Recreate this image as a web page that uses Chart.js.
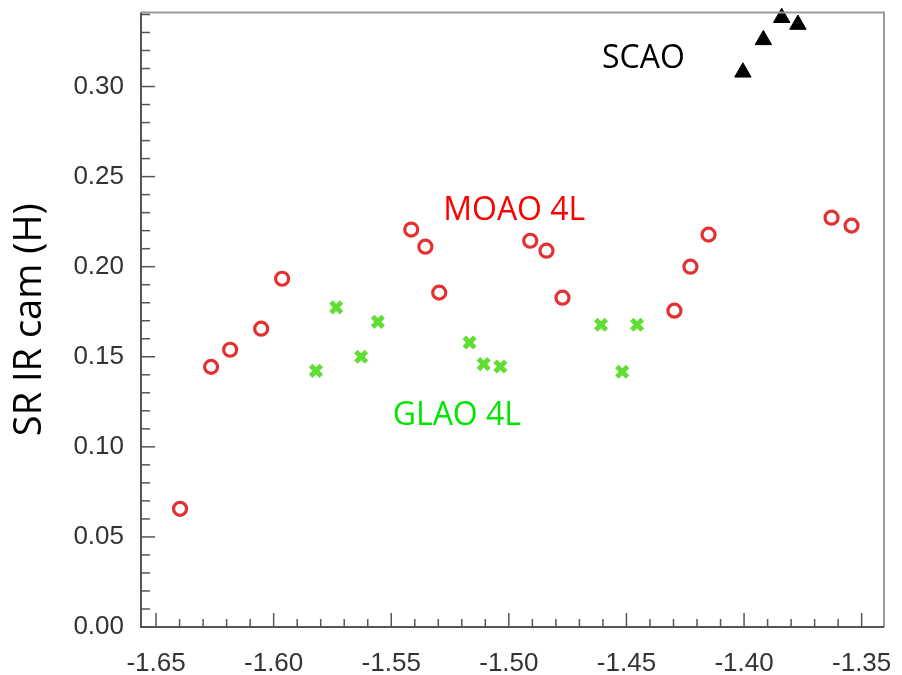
<!DOCTYPE html>
<html>
<head>
<meta charset="utf-8">
<script src="https://cdn.jsdelivr.net/npm/chart.js@4/dist/chart.umd.min.js"></script>
<style>
  html, body { margin: 0; padding: 0; background: #fff; }
  #c { display: block; }
</style>
</head>
<body>
<canvas id="c" width="902" height="675"></canvas>
<script>
// ---- data ----
const moaoX = [-1.6398, -1.6266, -1.6185, -1.6053, -1.5964, -1.5415, -1.5355, -1.5296,
               -1.4909, -1.4840, -1.4772, -1.4296, -1.4228, -1.4151, -1.3628, -1.3543];
const moaoY = [0.0656, 0.1444, 0.1539, 0.1656, 0.1933, 0.2206, 0.2111, 0.1856,
               0.2144, 0.2089, 0.1828, 0.1756, 0.2000, 0.2178, 0.2272, 0.2228];

const glaoX = [-1.5820, -1.5734, -1.5628, -1.5557, -1.5167, -1.5107, -1.5036, -1.4608, -1.4518, -1.4455];
const glaoY = [0.1422, 0.1774, 0.1500, 0.1694, 0.1579, 0.1459, 0.1446, 0.1678, 0.1417, 0.1678];

const scaoX = [-1.4005, -1.3918, -1.3840, -1.3771];
const scaoY = [0.3079, 0.3259, 0.3382, 0.3344];

const xTickLabels = ['-1.65', '-1.60', '-1.55', '-1.50', '-1.45', '-1.40', '-1.35'];
const yTickLabels = ['0.00', '0.05', '0.10', '0.15', '0.20', '0.25', '0.30'];

const xRange = [-1.6564, -1.3405];
const yRange = [0, 0.3411];

const seriesLabels = ['MOAO 4L', 'GLAO 4L', 'SCAO'];
const labelX = [-1.4977, -1.5221, -1.4428];
const labelY = [0.2311, 0.1172, 0.3156];
const labelColors = ['#ff0000', '#00e600', '#000000'];
const yTitle = 'SR IR cam (H)';

// ---- helpers ----
const pts = (xs, ys) => xs.map((x, i) => ({ x: x, y: ys[i] }));
const xMajor = xTickLabels.map(Number);
const yMajor = yTickLabels.map(Number);
function minorTicks(lo, hi) {
  const out = [];
  const start = Math.ceil(lo * 100 - 1e-6);
  const end = Math.floor(hi * 100 + 1e-6);
  for (let k = start; k <= end; k++) out.push(k / 100);
  return out;
}
const isMajor = (v, major) => major.some(m => Math.abs(m - v) < 1e-6);
const labelFor = (v, major, labels) => {
  const i = major.findIndex(m => Math.abs(m - v) < 1e-6);
  return i >= 0 ? labels[i] : '';
};

const frameTicks = {
  id: 'frameTicks',
  afterDatasetsDraw(chart) {
    const { ctx, chartArea: a, scales } = chart;
    ctx.save();
    ctx.strokeStyle = '#9a9a9a';
    ctx.lineWidth = 2;
    ctx.beginPath();
    ctx.moveTo(a.left, a.top); ctx.lineTo(a.right, a.top); ctx.lineTo(a.right, a.bottom);
    ctx.stroke();
    ctx.strokeStyle = '#555';
    ctx.beginPath();
    ctx.moveTo(a.left, a.top); ctx.lineTo(a.left, a.bottom); ctx.lineTo(a.right, a.bottom);
    ctx.stroke();
    ctx.lineWidth = 1.5;
    ctx.strokeStyle = '#555';
    scales.x.ticks.forEach(t => {
      const px = scales.x.getPixelForValue(t.value);
      const len = isMajor(t.value, xMajor) ? 14 : 8;
      ctx.beginPath(); ctx.moveTo(px, a.bottom); ctx.lineTo(px, a.bottom - len); ctx.stroke();
    });
    scales.y.ticks.forEach(t => {
      const py = scales.y.getPixelForValue(t.value);
      const len = isMajor(t.value, yMajor) ? 14 : 9;
      ctx.beginPath(); ctx.moveTo(a.left, py); ctx.lineTo(a.left + len, py); ctx.stroke();
    });
    ctx.font = '32px "Open Sans", "Noto Sans", sans-serif';
    ctx.textAlign = 'center';
    ctx.textBaseline = 'middle';
    seriesLabels.forEach((s, i) => {
      ctx.fillStyle = labelColors[i];
      ctx.fillText(s, scales.x.getPixelForValue(labelX[i]), scales.y.getPixelForValue(labelY[i]));
    });
    ctx.restore();
  }
};

new Chart(document.getElementById('c'), {
  type: 'scatter',
  data: {
    datasets: [
      { label: 'MOAO 4L', data: pts(moaoX, moaoY), pointStyle: 'circle', pointRadius: 6.5,
        borderColor: 'rgb(228,48,48)', backgroundColor: 'rgba(0,0,0,0)', pointBorderWidth: 3.2, clip: false },
      { label: 'GLAO 4L', data: pts(glaoX, glaoY), pointStyle: 'crossRot', pointRadius: 7.5,
        borderColor: 'rgb(96,222,52)', backgroundColor: 'rgb(96,222,52)', pointBorderWidth: 5, clip: false },
      { label: 'SCAO', data: pts(scaoX, scaoY), pointStyle: 'triangle', pointRadius: 9.5,
        borderColor: '#000', backgroundColor: '#000', pointBorderWidth: 1, clip: false }
    ]
  },
  options: {
    responsive: false,
    animation: false,
    devicePixelRatio: 1,
    layout: { padding: { top: 12, right: 18, left: 0, bottom: 0 } },
    plugins: { legend: { display: false }, tooltip: { enabled: false } },
    scales: {
      x: {
        type: 'linear', min: xRange[0], max: xRange[1],
        grid: { display: false }, border: { display: false },
        afterBuildTicks: s => { s.ticks = minorTicks(xRange[0], xRange[1]).map(v => ({ value: v })); },
        afterFit: s => { s.height = 48; s.paddingLeft = 0; s.paddingRight = 0; },
        ticks: {
          autoSkip: false, maxRotation: 0, padding: 13,
          color: '#333', font: { family: '"Liberation Sans", Arial, sans-serif', size: 26 },
          callback: v => labelFor(v, xMajor, xTickLabels)
        }
      },
      y: {
        type: 'linear', min: yRange[0], max: yRange[1],
        grid: { display: false }, border: { display: false },
        afterBuildTicks: s => { s.ticks = minorTicks(yRange[0], yRange[1]).map(v => ({ value: v })); },
        afterFit: s => { s.width = 141; s.paddingTop = 0; s.paddingBottom = 0; },
        ticks: {
          autoSkip: false, padding: 9,
          color: '#333', font: { family: '"Liberation Sans", Arial, sans-serif', size: 26 },
          callback: v => labelFor(v, yMajor, yTickLabels)
        },
        title: {
          display: true, text: yTitle, color: '#000',
          font: { family: '"Open Sans", "Noto Sans", sans-serif', size: 38 },
          padding: { top: 7, bottom: 0 }
        }
      }
    }
  },
  plugins: [frameTicks]
});
</script>
</body>
</html>
